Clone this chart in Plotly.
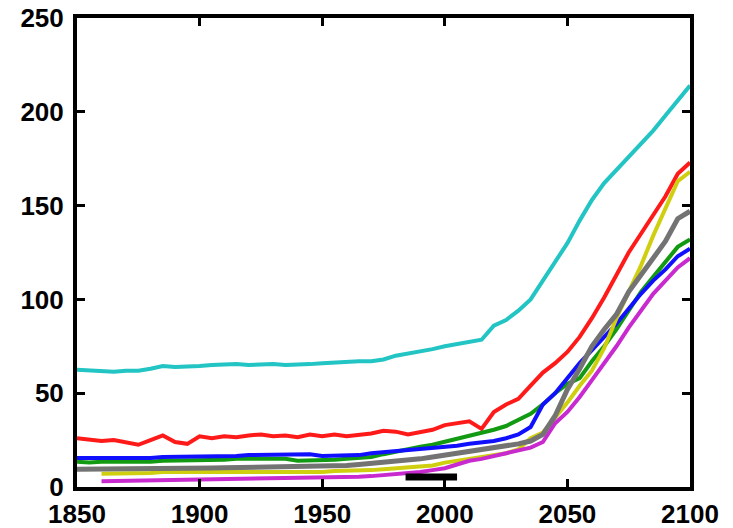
import plotly.graph_objects as go

years = list(range(1850, 2101, 5))
years_late = list(range(1860, 2101, 5))

cyan = [62.5, 62, 62, 61.5, 62, 62, 63, 64.5, 64, 64, 64.5, 65, 65.5, 65.5, 65, 65.5, 65.5, 65, 65, 65.5,
        66, 66.5, 66.5, 67, 67, 68, 70, 71, 72, 73.5, 75, 76, 77, 78.5, 86, 89, 94, 100, 110, 120,
        130, 142, 153, 162, 169, 176, 183, 190, 198, 206, 214]
red = [26, 25, 24.5, 25, 23.5, 22.5, 25, 27.5, 24, 23, 27, 26, 27, 26.5, 27.5, 28, 27, 27.5, 26.5, 28,
       27, 28, 27, 27.5, 28.5, 30, 29.5, 28, 29, 30.5, 33, 34, 35, 31, 40, 44, 47, 54, 61, 66,
       72, 80, 90, 101, 113, 125, 135, 145, 155, 167, 173]
blue = [15.5, 15.5, 15, 15.5, 15, 15.5, 15.5, 16, 16, 16, 16, 16.5, 16, 16.5, 17, 17, 17.5, 17.5, 17, 17.5,
        16.5, 16.5, 17, 17, 18, 18.5, 19, 19.5, 20, 20.5, 21, 22, 23, 23.5, 24.5, 26, 28, 32, 44, 50,
        58, 66, 73, 80, 87, 95, 103, 110, 116, 123, 127]
green = [13.5, 13, 13.5, 13.5, 13, 13.5, 13.5, 14, 14, 14, 14, 14.5, 14.5, 15, 15, 15.5, 15, 15, 14, 14,
         14.5, 14.5, 15, 15.5, 16, 17.5, 19, 20, 21.5, 22.5, 24, 25.5, 27, 28.5, 30.5, 32.5, 35.5, 39, 44, 50,
         55, 58, 67, 75, 84, 94, 104, 112, 120, 128, 132]
gray = [9.5, 9.5, 9.5, 9.6, 9.7, 9.8, 9.8, 9.9, 10, 10, 10, 10.1, 10.2, 10.3, 10.5, 10.6, 10.8, 10.9, 11, 11,
        11, 11.2, 11.5, 12, 12.5, 13, 13.5, 14, 15, 16, 17, 18, 19, 19.5, 20.5, 21.5, 23, 24.5, 28, 38,
        52, 63, 75, 84, 92, 104, 113, 121, 131, 143, 147]
yellow = [7, 7, 7.5, 7.5, 7.5, 8, 8, 8, 8, 8, 8, 8, 8, 8, 8, 8, 7.5, 8, 8, 8.5,
          8.5, 8.5, 9, 9.5, 10, 10.5, 11, 11.5, 13, 14, 15, 16, 17, 18, 20, 26, 29, 37, 45, 54,
          62, 74, 90, 104, 118, 134, 148, 163, 168]
magenta = [3, 3.1, 3.2, 3.3, 3.4, 3.5, 3.6, 3.7, 3.8, 3.9, 4, 4.1, 4.2, 4.3, 4.4, 4.5, 4.6, 4.7, 4.8, 5,
           5.2, 5.5, 5.8, 6.3, 7, 7.5, 8, 9, 10, 12, 14, 15, 16.5, 18, 19.5, 21, 24, 34, 40, 48,
           57, 66, 75, 85, 94, 103, 110, 117, 122]
obs_years = [1984, 2005]
obs_vals = [5.3, 5.3]

x_ticks = [1850, 1900, 1950, 2000, 2050, 2100]
y_ticks = [0, 50, 100, 150, 200, 250]
x_range = [1850, 2100]
y_range = [0, 250]

series = [
    ("cyan", years, cyan, "#22c4c4", 4),
    ("red", years, red, "#ff1a1a", 4),
    ("green", years, green, "#139a13", 4),
    ("blue", years, blue, "#1010ff", 4),
    ("yellow", years_late, yellow, "#cfcf10", 4),
    ("magenta", years_late, magenta, "#c82ad0", 4),
    ("gray", years, gray, "#737373", 5),
    ("obs", obs_years, obs_vals, "#000000", 7),
]

fig = go.Figure()
for name, x, y, c, w in series:
    fig.add_trace(go.Scatter(x=x, y=y, mode="lines", name=name,
                             line=dict(color=c, width=w), showlegend=False))

tickfont = dict(family="Liberation Sans, Arial, sans-serif", size=26, color="black")
line_col = "rgb(0,0,0)"

fig.update_xaxes(range=x_range, tickmode="array", tickvals=x_ticks,
                 ticktext=["<b>%d</b>" % v for v in x_ticks],
                 showline=True, linecolor=line_col, linewidth=4, mirror="allticks",
                 ticks="inside", ticklen=8, tickwidth=3, tickcolor=line_col,
                 showgrid=False, zeroline=False, layer="above traces",
                 automargin=False, tickfont=tickfont, ticklabelstandoff=1)
fig.update_yaxes(range=y_range, tickmode="array", tickvals=y_ticks,
                 ticktext=["<b>%d</b>" % v for v in y_ticks],
                 showline=True, linecolor=line_col, linewidth=4, mirror="allticks",
                 ticks="inside", ticklen=8, tickwidth=3, tickcolor=line_col,
                 showgrid=False, zeroline=False, layer="above traces",
                 automargin=False, tickfont=tickfont, ticklabelstandoff=4)

fig.update_layout(width=733, height=528, margin=dict(l=77, r=43, t=18, b=41, autoexpand=False),
                  plot_bgcolor="white", paper_bgcolor="white",
                  template="simple_white")

fig.write_html("out.html")
